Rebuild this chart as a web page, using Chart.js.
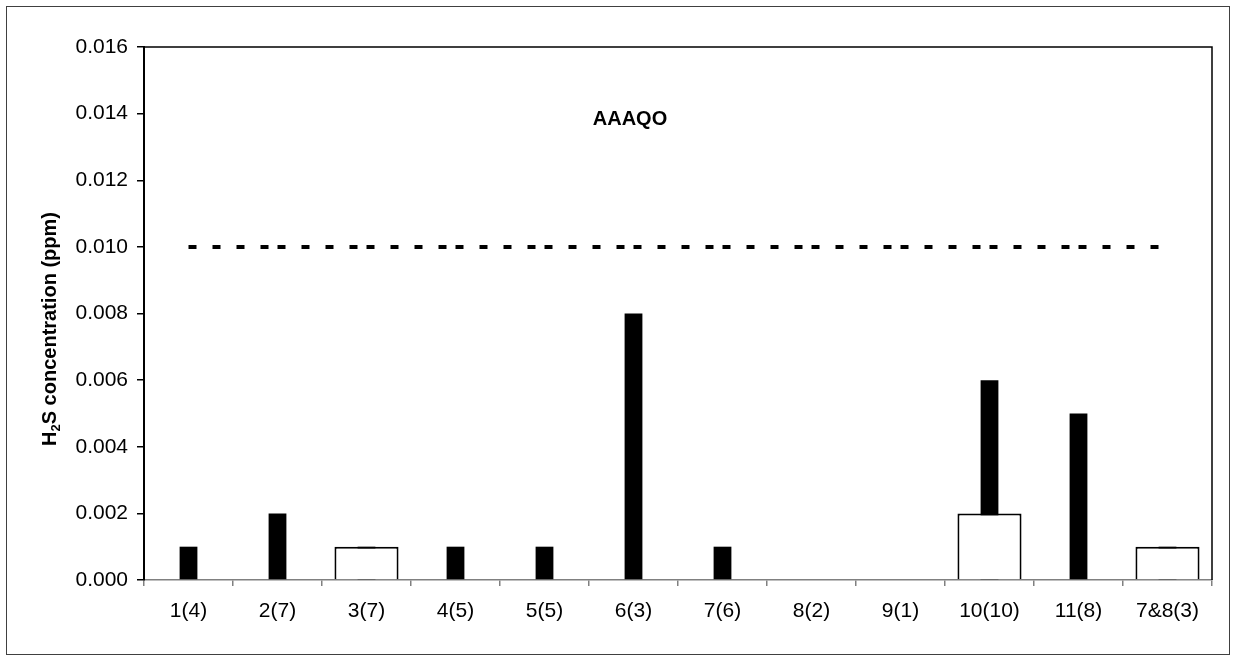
<!DOCTYPE html>
<html>
<head>
<meta charset="utf-8">
<style>
html,body{margin:0;padding:0;background:#ffffff;}
#wrap{width:1233px;height:656px;position:relative;}
</style>
<script src="https://cdn.jsdelivr.net/npm/chart.js@4.4.1/dist/chart.umd.min.js"></script>
</head>
<body>
<div id="wrap"><canvas id="c" width="1233" height="656"></canvas></div>
<script>
// ---- data ----
const categories = ['1(4)','2(7)','3(7)','4(5)','5(5)','6(3)','7(6)','8(2)','9(1)','10(10)','11(8)','7&8(3)'];
const maxValues  = [0.001,0.002,0.001,0.001,0.001,0.008,0.001,0,0,0.006,0.005,0.001];
const meanValues = [null,null,0.001,null,null,null,null,null,null,0.002,null,0.001];
const guidelineValues = [0.010,0.010,0.010,0.010,0.010,0.010,0.010,0.010,0.010,0.010,0.010,0.010];
const yTickValues = [0,0.002,0.004,0.006,0.008,0.010,0.012,0.014,0.016];
const chartTitle = 'AAAQO';
const yTitleParts = ['H','2','S concentration (ppm)'];

const FONT = '"Liberation Sans", Arial, sans-serif';

const decorPlugin = {
  id: 'decor',
  beforeDraw(chart) {
    const ctx = chart.ctx;
    ctx.save();
    ctx.fillStyle = '#ffffff';
    ctx.fillRect(0, 0, chart.width, chart.height);
    ctx.restore();
  },
  afterDraw(chart) {
    const ctx = chart.ctx;
    const a = chart.chartArea;
    ctx.save();
    // plot area border (top + right)
    ctx.strokeStyle = '#000000';
    ctx.lineWidth = 1.5;
    ctx.beginPath();
    ctx.moveTo(a.left, a.top);
    ctx.lineTo(a.right, a.top);
    ctx.lineTo(a.right, a.bottom);
    ctx.stroke();
    // outer chart border
    ctx.lineWidth = 1;
    ctx.strokeStyle = '#404040';
    ctx.strokeRect(6.5, 6.5, 1223, 648);
    // chart title
    ctx.fillStyle = '#000000';
    ctx.font = 'bold 20px ' + FONT;
    ctx.textAlign = 'center';
    ctx.textBaseline = 'alphabetic';
    ctx.fillText(chartTitle, 630, 125);
    // y axis title with subscript
    const big = 'bold 20px ' + FONT;
    const small = 'bold 13px ' + FONT;
    ctx.font = big;
    const w0 = ctx.measureText(yTitleParts[0]).width;
    const w2 = ctx.measureText(yTitleParts[2]).width;
    ctx.font = small;
    const w1 = ctx.measureText(yTitleParts[1]).width;
    const total = w0 + w1 + w2;
    ctx.translate(56, 329);
    ctx.rotate(-Math.PI / 2);
    ctx.textAlign = 'left';
    let x = -total / 2;
    ctx.font = big;
    ctx.fillText(yTitleParts[0], x, 0);
    x += w0;
    ctx.font = small;
    ctx.fillText(yTitleParts[1], x, 4);
    x += w1;
    ctx.font = big;
    ctx.fillText(yTitleParts[2], x, 0);
    ctx.restore();
  }
};

new Chart(document.getElementById('c'), {
  type: 'bar',
  data: {
    labels: categories,
    datasets: [
      {
        type: 'line',
        label: 'Guideline',
        data: guidelineValues,
        borderColor: '#000000',
        borderWidth: 4,
        borderDash: [8, 16],
        borderCapStyle: 'butt',
        pointRadius: 0,
        fill: false,
        order: -1,
        segment: {
          borderDashOffset: c => (c.p0DataIndex % 2 ? 0.001 : 0)
        }
      },
      {
        label: 'Mean',
        data: meanValues,
        backgroundColor: '#ffffff',
        borderColor: '#000000',
        borderWidth: 2,
        grouped: false,
        categoryPercentage: 1,
        barPercentage: 0.72,
        order: 0
      },
      {
        label: 'Maximum',
        data: maxValues,
        backgroundColor: '#000000',
        borderWidth: 0,
        grouped: false,
        categoryPercentage: 1,
        barPercentage: 0.2,
        order: 1
      }
    ]
  },
  options: {
    responsive: false,
    animation: false,
    devicePixelRatio: 1,
    layout: { padding: { left: 44, top: 47, right: 21, bottom: 16 } },
    plugins: { legend: { display: false }, tooltip: { enabled: false }, title: { display: false } },
    scales: {
      x: {
        offset: true,
        grid: { display: true, drawOnChartArea: false, offset: true, tickLength: 6, color: '#808080', lineWidth: 1.5 },
        border: { display: true, color: '#808080', width: 1.5 },
        ticks: { color: '#000000', font: { family: FONT, size: 21 }, padding: 13, maxRotation: 0, autoSkip: false },
        afterFit: s => { s.height = 60; }
      },
      y: {
        min: 0,
        max: 0.016,
        grid: { display: true, drawOnChartArea: false, tickLength: 7, color: '#000000', lineWidth: 1.5 },
        border: { display: true, color: '#000000', width: 2 },
        ticks: { color: '#000000', font: { family: FONT, size: 21 }, padding: 9, callback: v => Number(v).toFixed(3) },
        afterBuildTicks: s => { s.ticks = yTickValues.map(v => ({ value: v })); },
        afterFit: s => { s.width = 100; }
      }
    }
  },
  plugins: [decorPlugin]
});
</script>
</body>
</html>
